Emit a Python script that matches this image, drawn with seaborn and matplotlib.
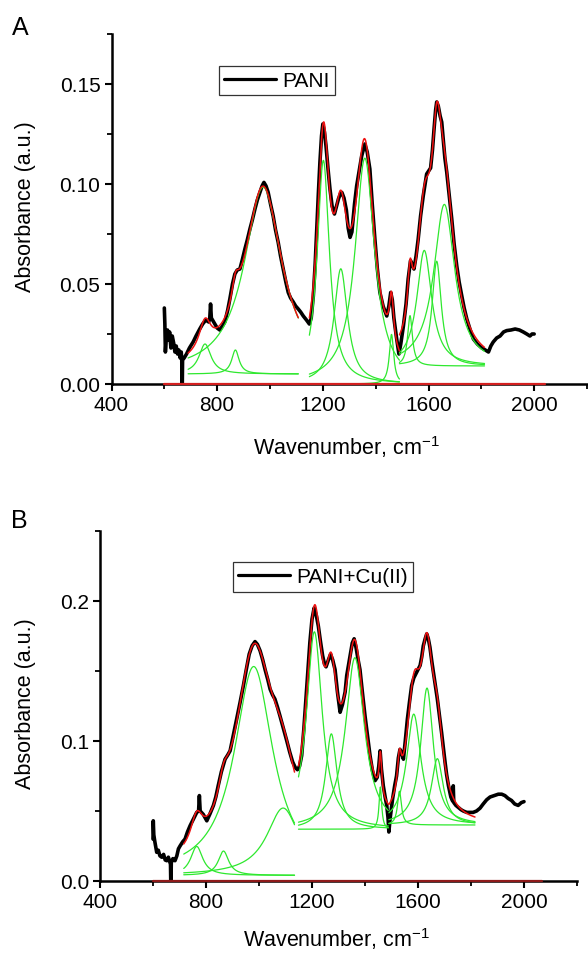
import numpy as np
import pandas as pd
import seaborn as sns
import matplotlib
matplotlib.use("Agg")
import matplotlib.pyplot as plt
from matplotlib.ticker import MultipleLocator, FormatStrFormatter
from matplotlib.lines import Line2D

# ---------------- Panel A: PANI spectrum ----------------
a_wn = [600, 602, 604, 608, 612, 616, 620, 625, 630, 636, 640, 645, 650, 655, 660, 664, 666, 667, 668, 669,
        675, 684, 695, 709, 720, 734, 745, 757, 768, 772, 775, 778, 791, 800, 810, 820, 829, 840, 848, 858,
        867, 876, 886, 895, 905, 914, 924, 933, 943, 952, 962, 970, 977, 985, 993, 1002, 1012, 1021, 1031, 1040,
        1050, 1060, 1069, 1078, 1088, 1097, 1107, 1116, 1126, 1138, 1149, 1156, 1164, 1171, 1177, 1183, 1189, 1195, 1200, 1206,
        1212, 1220, 1227, 1235, 1244, 1252, 1259, 1266, 1272, 1280, 1289, 1296, 1303, 1310, 1320, 1328, 1338, 1347, 1359, 1368,
        1378, 1387, 1397, 1406, 1416, 1428, 1442, 1450, 1457, 1463, 1469, 1478, 1488, 1495, 1505, 1515, 1523, 1532, 1538, 1545,
        1553, 1561, 1570, 1580, 1593, 1608, 1615, 1621, 1627, 1631, 1637, 1644, 1650, 1656, 1662, 1669, 1678, 1688, 1697, 1707,
        1716, 1726, 1735, 1745, 1758, 1770, 1785, 1802, 1815, 1827, 1836, 1845, 1858, 1871, 1884, 1896, 1912, 1928, 1944, 1959,
        1972, 1984, 1992, 2000]
a_abs = [0.038, 0.030, 0.016, 0.024, 0.027, 0.022, 0.026, 0.018, 0.024, 0.020, 0.016, 0.019, 0.015, 0.017, 0.013, 0.016, 0.012, 0.0, 0.0, 0.012,
         0.013, 0.015, 0.018, 0.021, 0.024, 0.0275, 0.030, 0.032, 0.031, 0.033, 0.040, 0.033, 0.030, 0.028, 0.027, 0.029, 0.031, 0.037, 0.0425, 0.050,
         0.055, 0.057, 0.0575, 0.062, 0.0675, 0.072, 0.0775, 0.082, 0.0875, 0.092, 0.0958, 0.099, 0.1008, 0.099, 0.0958, 0.090, 0.084, 0.077, 0.0708, 0.064,
         0.0575, 0.051, 0.0458, 0.043, 0.041, 0.039, 0.0375, 0.036, 0.034, 0.032, 0.030, 0.033, 0.044, 0.060, 0.0775, 0.095, 0.111, 0.124, 0.130, 0.126,
         0.119, 0.107, 0.0975, 0.089, 0.085, 0.089, 0.0925, 0.095, 0.0958, 0.093, 0.087, 0.078, 0.0733, 0.076, 0.090, 0.099, 0.107, 0.114, 0.120, 0.116,
         0.1075, 0.090, 0.0725, 0.058, 0.0458, 0.039, 0.034, 0.039, 0.0458, 0.042, 0.033, 0.024, 0.015, 0.020, 0.029, 0.040, 0.0525, 0.0617, 0.060, 0.0575,
         0.064, 0.0725, 0.084, 0.094, 0.105, 0.108, 0.117, 0.1275, 0.137, 0.141, 0.139, 0.134, 0.131, 0.122, 0.113, 0.106, 0.095, 0.0825, 0.070, 0.059,
         0.051, 0.044, 0.038, 0.0325, 0.027, 0.0225, 0.020, 0.018, 0.017, 0.016, 0.019, 0.021, 0.023, 0.024, 0.026, 0.0267, 0.027, 0.0275, 0.027, 0.026,
         0.025, 0.024, 0.025, 0.025]

# ---------------- Panel B: PANI+Cu(II) spectrum ----------------
b_wn = [600, 601, 603, 607, 614, 620, 626, 633, 640, 646, 652, 658, 663, 666, 667, 668, 669, 675, 683, 690,
        696, 702, 712, 721, 730, 740, 752, 765, 772, 775, 778, 790, 803, 815, 828, 837, 846, 858, 872, 882,
        891, 903, 916, 928, 941, 952, 963, 974, 985, 994, 1004, 1014, 1023, 1033, 1042, 1051, 1060, 1070, 1079, 1092,
        1105, 1116, 1127, 1137, 1145, 1153, 1161, 1169, 1177, 1185, 1192, 1200, 1208, 1216, 1224, 1232, 1240, 1247, 1253, 1262,
        1270, 1278, 1287, 1296, 1306, 1315, 1325, 1331, 1343, 1352, 1359, 1367, 1374, 1381, 1390, 1400, 1410, 1419, 1428, 1438,
        1446, 1452, 1457, 1462, 1469, 1476, 1482, 1487, 1490, 1495, 1504, 1512, 1519, 1526, 1532, 1538, 1545, 1552, 1560, 1568,
        1576, 1584, 1592, 1600, 1608, 1614, 1620, 1627, 1633, 1639, 1645, 1652, 1660, 1667, 1673, 1681, 1689, 1695, 1702, 1708,
        1715, 1724, 1731, 1733, 1735, 1743, 1752, 1762, 1771, 1784, 1796, 1808, 1821, 1834, 1846, 1859, 1872, 1888, 1903, 1916,
        1928, 1940, 1953, 1965, 1978, 1990, 2000]
b_abs = [0.030, 0.043, 0.033, 0.028, 0.0205, 0.022, 0.018, 0.017, 0.019, 0.015, 0.0145, 0.017, 0.014, 0.012, 0.0, 0.0, 0.013, 0.016, 0.0145, 0.018,
         0.023, 0.025, 0.028, 0.030, 0.035, 0.0395, 0.044, 0.049, 0.050, 0.061, 0.050, 0.0475, 0.043, 0.048, 0.054, 0.060, 0.068, 0.078, 0.087, 0.090,
         0.093, 0.104, 0.1157, 0.127, 0.1395, 0.151, 0.162, 0.168, 0.171, 0.169, 0.1645, 0.158, 0.151, 0.144, 0.137, 0.133, 0.130, 0.124, 0.118, 0.109,
         0.100, 0.092, 0.085, 0.081, 0.0795, 0.082, 0.0895, 0.108, 0.130, 0.152, 0.1705, 0.187, 0.195, 0.190, 0.182, 0.171, 0.161, 0.155, 0.153, 0.158,
         0.162, 0.158, 0.151, 0.135, 0.1205, 0.126, 0.135, 0.1467, 0.160, 0.170, 0.173, 0.166, 0.158, 0.151, 0.135, 0.118, 0.103, 0.0895, 0.079, 0.0717,
         0.074, 0.082, 0.093, 0.080, 0.068, 0.060, 0.054, 0.045, 0.035, 0.045, 0.0585, 0.068, 0.075, 0.088, 0.094, 0.092, 0.087, 0.100, 0.1157, 0.128,
         0.1395, 0.145, 0.148, 0.151, 0.154, 0.160, 0.168, 0.173, 0.1765, 0.173, 0.167, 0.157, 0.1467, 0.138, 0.130, 0.118, 0.106, 0.096, 0.085, 0.076,
         0.068, 0.060, 0.057, 0.068, 0.056, 0.054, 0.0526, 0.051, 0.050, 0.049, 0.049, 0.049, 0.050, 0.052, 0.055, 0.058, 0.060, 0.061, 0.062, 0.062,
         0.061, 0.059, 0.0575, 0.055, 0.054, 0.056, 0.0567]

# ---------------- fitted Lorentzian components ----------------
# per fit region: wavenumber range, baseline level, peak centres, peak heights above baseline, FWHM
a_ranges = [(690, 1107), (1149, 1490), (1490, 1812)]
a_base = [0.005, 0.0, 0.009]
a_centers = [[754, 869, 974], [1202, 1268, 1359, 1460], [1530, 1584, 1631, 1660]]
a_heights = [[0.0150, 0.0120, 0.0934], [0.1118, 0.0576, 0.1129, 0.0248], [0.0252, 0.0578, 0.0524, 0.0808]]
a_fwhm = [[55, 34, 174], [56, 62, 90, 20], [22, 68, 42, 96]]

b_ranges = [(716, 1134), (1149, 1488), (1490, 1815)]
b_base = [0.004, 0.037, 0.040]
b_centers = [[765, 866, 980, 1091], [1209, 1273, 1362, 1458], [1530, 1584, 1634, 1673]]
b_heights = [[0.0207, 0.0174, 0.1492, 0.0481], [0.1410, 0.0681, 0.1225, 0.0302], [0.0241, 0.0792, 0.0978, 0.0474]]
b_fwhm = [[55, 48, 178, 150], [72, 52, 88, 12], [18, 66, 58, 54]]


def lorentz(x, c, w):
    return 1.0 / (1.0 + ((x - c) / (w / 2.0)) ** 2)


# ---------------- figure ----------------
sns.set_theme(style="ticks")
plt.rcParams["font.family"] = ["Liberation Sans", "DejaVu Sans"]
plt.rcParams["text.color"] = "black"
plt.rcParams["axes.labelcolor"] = "black"
plt.rcParams["xtick.color"] = "black"
plt.rcParams["ytick.color"] = "black"

fig = plt.figure(figsize=(5.88, 9.54), dpi=100)
fig.patch.set_facecolor("white")
axA = fig.add_axes([111.5 / 588, 1 - 385 / 954, 475.5 / 588, 350 / 954])
axB = fig.add_axes([100 / 588, 1 - 882 / 954, 477 / 588, 350 / 954])

panels = [
    (axA, a_wn, a_abs, a_ranges, a_base, a_centers, a_heights, a_fwhm, 0.175, 0.05, "%.2f", "PANI",
     (0.2258, 0.9086), "#d42020", 2040, -0.14),
    (axB, b_wn, b_abs, b_ranges, b_base, b_centers, b_heights, b_fwhm, 0.25, 0.1, "%.1f", "PANI+Cu(II)",
     (0.278, 0.911), "#8e1a1a", 2068, -0.127),
]

for (ax, wn, ab, ranges, bases, cents, heights, fwhms, ytop, ymaj, fmt, leg, legpos, axcol, xend, xly) in panels:
    ax.set_facecolor("white")
    sns.lineplot(x=wn, y=ab, ax=ax, color="black", linewidth=2.6, sort=False, estimator=None, zorder=2)
    for (lo, hi), base, cs, hs, ws in zip(ranges, bases, cents, heights, fwhms):
        xx = np.linspace(lo, hi, 400)
        total = np.full_like(xx, base)
        for c, h, w in zip(cs, hs, ws):
            comp = h * lorentz(xx, c, w)
            total = total + comp
            sns.lineplot(x=xx, y=base + comp, ax=ax, color="#2ee82e", linewidth=0.9, sort=False,
                         estimator=None, zorder=3)
        sns.lineplot(x=xx, y=total, ax=ax, color="#ee1111", linewidth=1.1, sort=False, estimator=None, zorder=4)
    ax.plot([600, xend], [0, 0], color=axcol, lw=1.6, zorder=6, clip_on=False)

    ax.set_xlim(400, 2200)
    ax.set_ylim(0, ytop)
    ax.xaxis.set_major_locator(MultipleLocator(400))
    ax.xaxis.set_minor_locator(MultipleLocator(200))
    ax.yaxis.set_major_locator(MultipleLocator(ymaj))
    ax.yaxis.set_minor_locator(MultipleLocator(ymaj / 2))
    ax.yaxis.set_major_formatter(FormatStrFormatter(fmt))
    for sp in ["top", "right"]:
        ax.spines[sp].set_visible(False)
    for sp in ["left", "bottom"]:
        ax.spines[sp].set_linewidth(1.8)
        ax.spines[sp].set_color("black")
    ax.tick_params(which="major", direction="out", length=5, width=1.5, labelsize=15, pad=3,
                   color="black", labelcolor="black")
    ax.tick_params(which="minor", direction="out", length=3.5, width=1.3, color="black")
    ax.set_xlabel(r"Wavenumber, cm$^{\mathregular{-1}}$", fontsize=15.5, color="black")
    ax.set_ylabel("Absorbance (a.u.)", fontsize=15.5, color="black")
    ax.xaxis.set_label_coords(0.495, xly)
    ax.xaxis.label.set_va("top")
    lg = ax.legend(handles=[Line2D([], [], color="black", lw=2.3)], labels=[leg], loc="upper left",
                   bbox_to_anchor=legpos, frameon=True, fancybox=False, framealpha=1, edgecolor="#333333",
                   borderpad=0.25, handlelength=2.5, handletextpad=0.3, borderaxespad=0, fontsize=15,
                   labelcolor="black")
    lg.get_frame().set_linewidth(0.9)

axA.yaxis.set_label_coords(-0.159, 0.509)
axB.yaxis.set_label_coords(-0.134, 0.509)
fig.text(12 / 588, 1 - 35 / 954, "A", fontsize=18, va="baseline", color="black")
fig.text(11 / 588, 1 - 528 / 954, "B", fontsize=18, va="baseline", color="black")

fig.savefig("out.png", dpi=100, facecolor="white")
